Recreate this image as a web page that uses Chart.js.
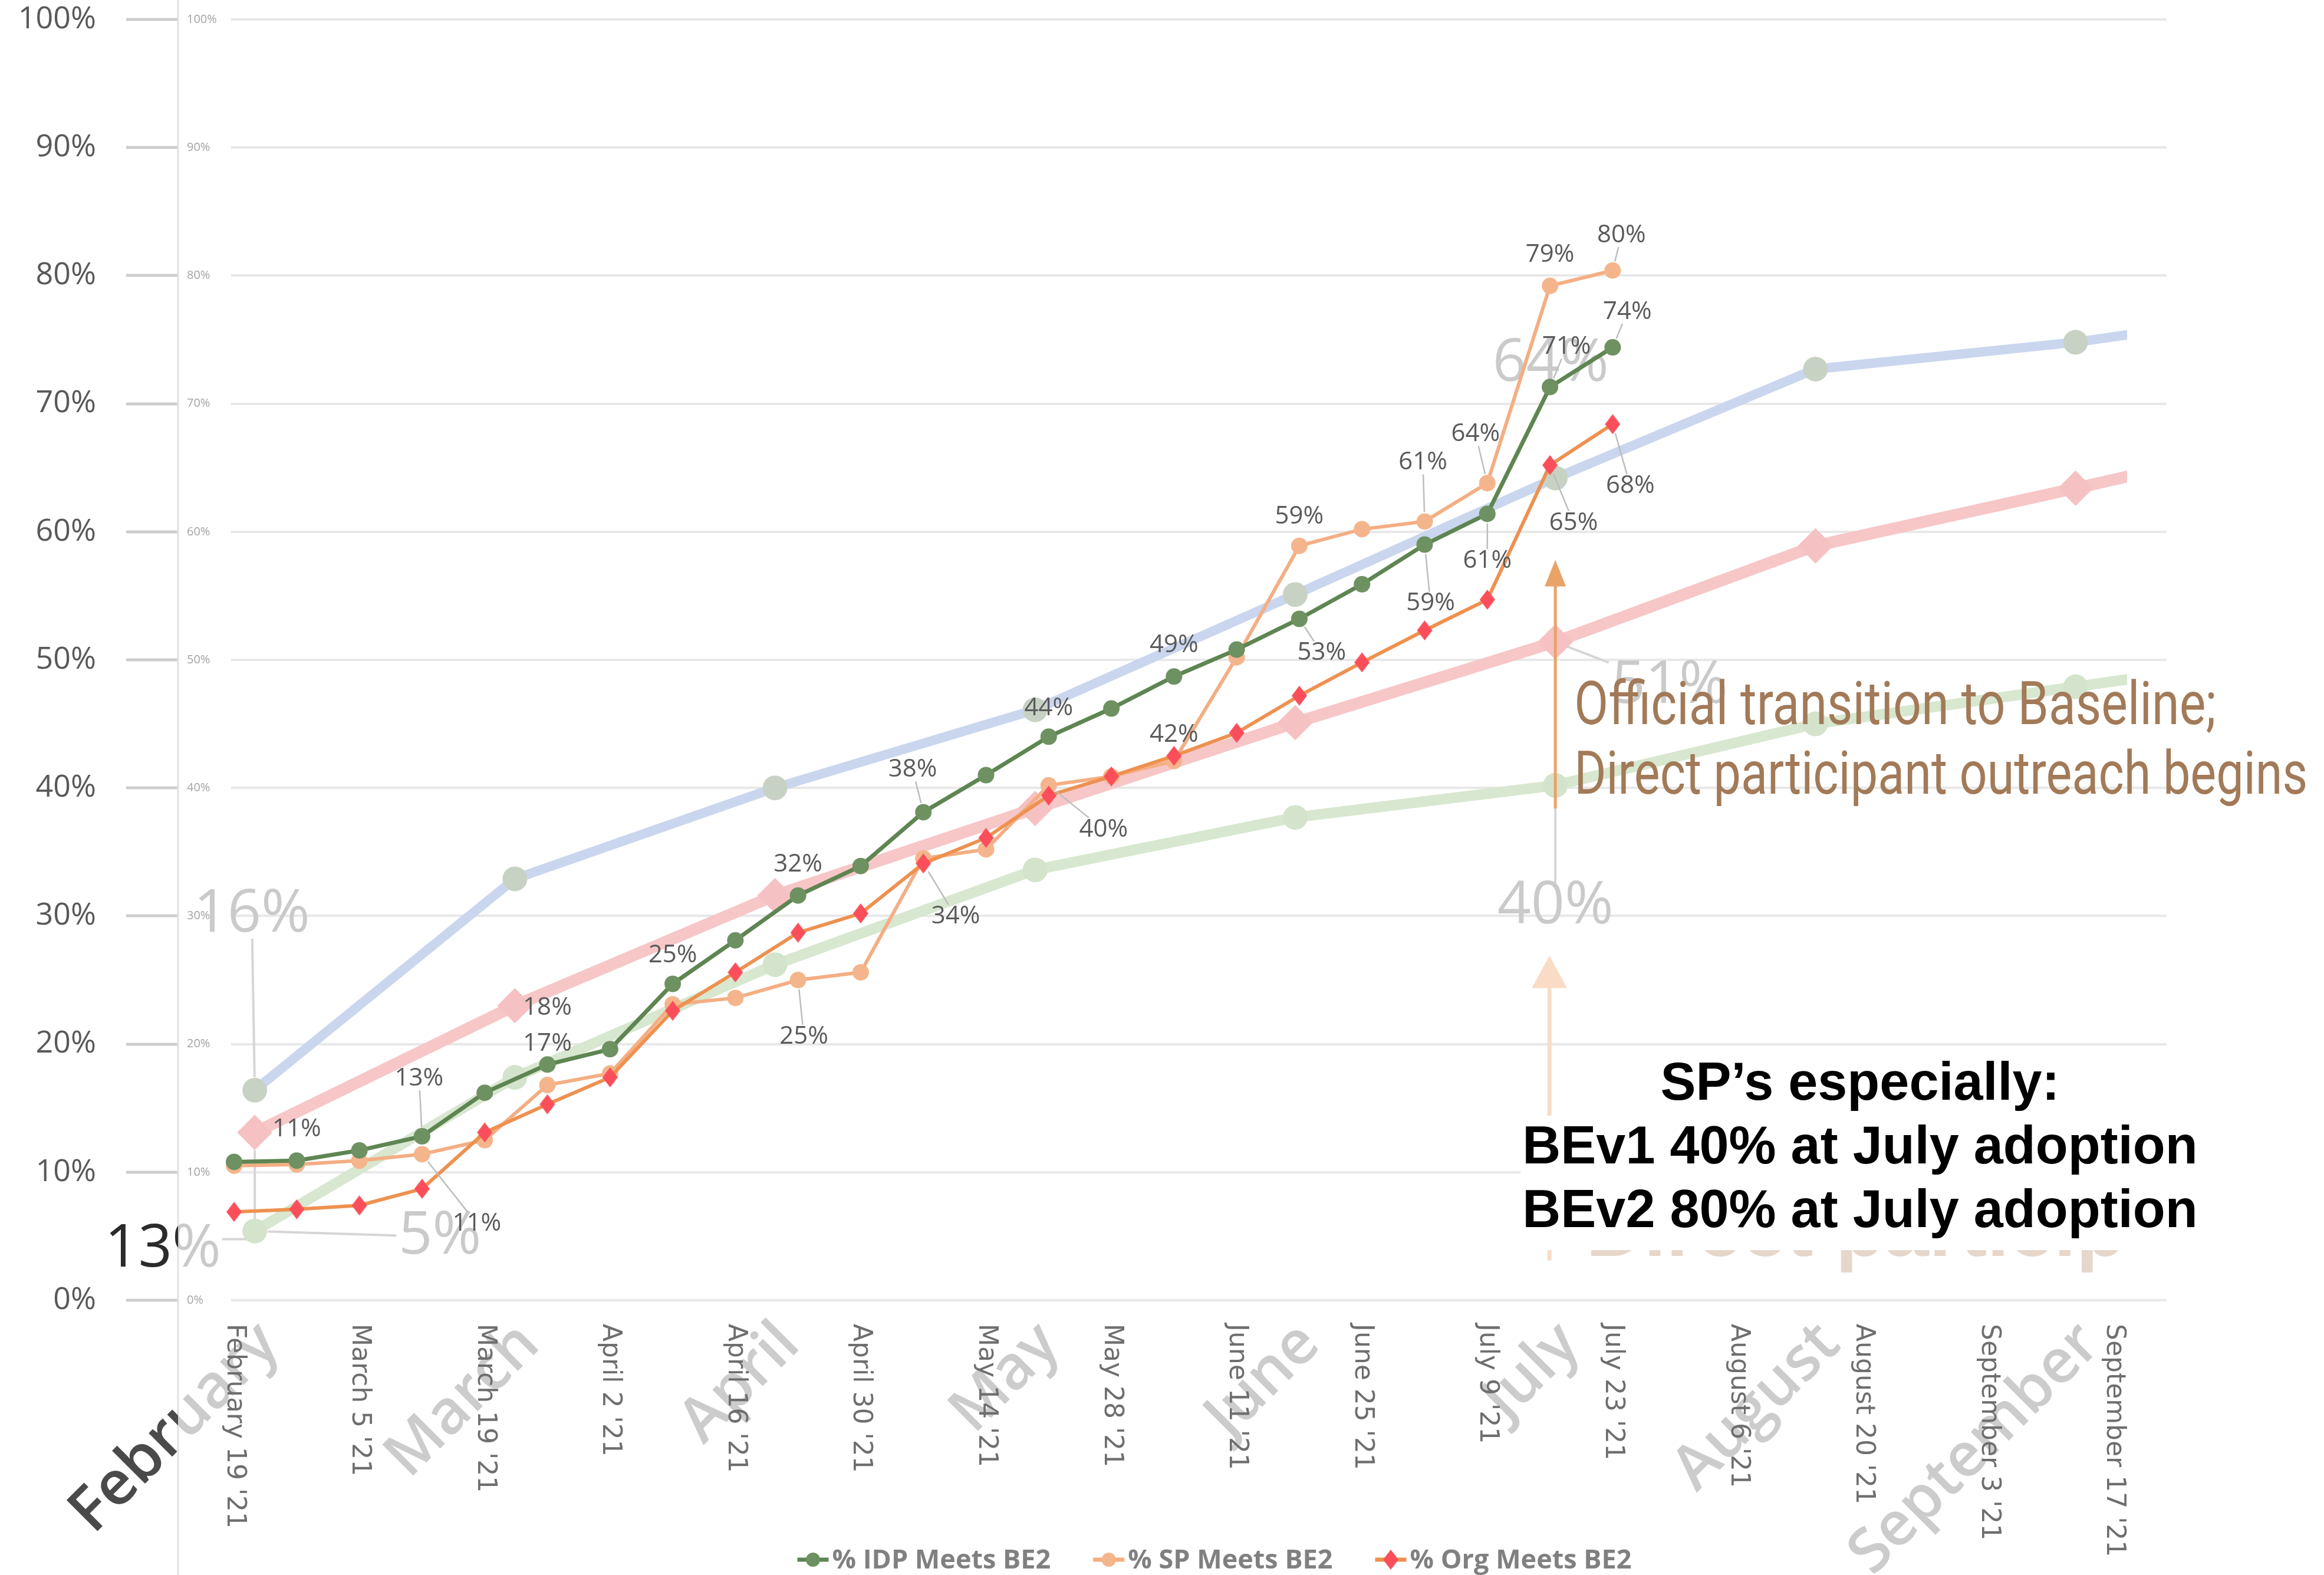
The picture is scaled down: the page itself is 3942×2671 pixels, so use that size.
<!DOCTYPE html>
<html><head><meta charset="utf-8">
<script src="https://cdn.jsdelivr.net/npm/chart.js@4/dist/chart.umd.min.js"></script>
<style>html,body{margin:0;padding:0;background:#fff}canvas{display:block}</style>
</head><body>
<canvas id="c" width="3942" height="2671"></canvas>
<script>
// ---------- DATA ----------
const weeks = ["February 19 '21","February 26 '21","March 5 '21","March 12 '21","March 19 '21","March 26 '21",
  "April 2 '21","April 9 '21","April 16 '21","April 23 '21","April 30 '21","May 7 '21","May 14 '21","May 21 '21",
  "May 28 '21","June 4 '21","June 11 '21","June 18 '21","June 25 '21","July 2 '21","July 9 '21","July 16 '21",
  "July 23 '21","July 30 '21","August 6 '21","August 13 '21","August 20 '21","August 27 '21","September 3 '21",
  "September 10 '21","September 17 '21"];
const tickEvery = 2;
const months = ["February","March","April","May","June","July","August","September","October"];

const idpBE2 = [10.8,10.9,11.7,12.8,16.2,18.4,19.6,24.7,28.1,31.6,33.9,38.1,41.0,44.0,46.2,48.7,50.8,53.2,55.9,59.0,61.4,71.3,74.4];
const spBE2  = [10.5,10.6,10.9,11.4,12.5,16.8,17.7,23.1,23.6,25.0,25.6,34.5,35.2,40.2,40.9,42.1,50.2,58.9,60.2,60.8,63.8,79.2,80.4];
const orgBE2 = [6.9,7.1,7.4,8.7,13.1,15.3,17.4,22.6,25.6,28.7,30.2,34.1,36.1,39.4,40.9,42.5,44.3,47.2,49.8,52.3,54.7,65.2,68.4];

const idpBE1 = [16.4,32.9,40.0,46.1,55.1,64.2,72.7,74.8,77.7];
const orgBE1 = [13.1,23.0,31.6,38.4,45.1,51.4,58.9,63.4,68.0];
const spBE1  = [5.4,17.4,26.2,33.6,37.7,40.2,45.0,47.9,50.8];

const seriesNames = ["% IDP Meets BE2","% SP Meets BE2","% Org Meets BE2"];
const yTicks = [0,10,20,30,40,50,60,70,80,90,100];

// ---------- helpers ----------
const W = 3942, H = 2671;
function diamondCanvas(w, h, color){
  const c = document.createElement('canvas'); c.width = w; c.height = h;
  const g = c.getContext('2d'); g.fillStyle = color; g.beginPath();
  g.moveTo(w/2,0); g.lineTo(w,h/2); g.lineTo(w/2,h); g.lineTo(0,h/2); g.closePath(); g.fill();
  return c;
}
const orgDiamond = diamondCanvas(26, 34, '#FA4F5B');
const pts = arr => arr.map((v,i)=>({x:i,y:v}));

// label specs: [datasetIndex, pointIndex, dx, dy, leader]
const fgLabels = [
  [3,1,0,-53,0],[3,3,-5,-98,1],[3,5,0,-96,0],[3,7,0,-48,0],[3,9,0,-53,0],[3,11,-18,-72,1],[3,13,0,-48,0],
  [3,15,0,-53,0],[3,17,38,58,1],[3,19,10,100,1],[3,20,0,80,1],[3,21,28,-68,1],[3,22,25,-60,1],
  [4,3,93,118,1],[4,5,0,-70,0],[4,9,10,96,1],[4,13,93,75,1],[4,15,0,-45,0],[4,17,0,-50,0],
  [4,19,-3,-100,1],[4,20,-20,-83,1],[4,21,0,-53,0],[4,22,15,-60,1],
  [5,11,55,90,1],[5,21,40,98,1],[5,22,30,105,1]
];
const bgLabels = [
  [0,0,-5,-297,'line'],[1,0,-156,199,'vh'],[2,0,314,10,'line'],
  [0,5,-8,-193,'none'],[1,5,194,75,'line'],[2,5,0,206,'line']
];

function leaderTo(ctx, px, py, lx, ly, w, h, r){
  const dx = px-lx, dy = py-ly;
  let ex, ey;
  if (Math.abs(dy)*w > Math.abs(dx)*h){ const k=(h/2+4)/Math.abs(dy); ey=ly+Math.sign(dy)*(h/2+4); ex=lx+dx*k; }
  else { const k=(w/2+4)/Math.abs(dx); ex=lx+Math.sign(dx)*(w/2+4); ey=ly+dy*k; }
  const d = Math.hypot(px-ex, py-ey);
  if (d <= r+2) return;
  ctx.beginPath(); ctx.moveTo(px+(ex-px)*r/d, py+(ey-py)*r/d); ctx.lineTo(ex,ey); ctx.stroke();
}
function arrow(ctx, x, y0, y1, color, lw, hl, hw){
  ctx.save(); ctx.strokeStyle=color; ctx.fillStyle=color; ctx.lineWidth=lw;
  ctx.beginPath(); ctx.moveTo(x,y0); ctx.lineTo(x,y1+hl-2); ctx.stroke();
  ctx.beginPath(); ctx.moveTo(x,y1); ctx.lineTo(x+hw,y1+hl); ctx.lineTo(x-hw,y1+hl); ctx.closePath(); ctx.fill();
  ctx.restore();
}
function condensedText(ctx, txt, x, y, targetW){
  const w = ctx.measureText(txt).width;
  ctx.save(); ctx.translate(x, y); ctx.scale(targetW / w, 1); ctx.fillText(txt, 0, 0); ctx.restore();
}

const composite = {
  id: 'composite',
  beforeDatasetsDraw(chart){
    const {ctx, chartArea: ca, scales} = chart;
    const x = scales.x, xm = scales.xm, y = scales.y;
    ctx.save();
    // inner (foreground) tiny axis labels with gaps in the grid
    ctx.font = '20px "Open Sans"'; ctx.textBaseline='middle'; ctx.textAlign='left';
    yTicks.forEach(v=>{
      const py = y.getPixelForValue(v);
      ctx.fillStyle='#fff'; ctx.fillRect(ca.left+2, py-5, 88, 10);
      ctx.fillStyle='#a3a3a3'; ctx.fillText(v+'%', ca.left+15, py);
    });
    // full-height vertical axis line of the inner chart
    ctx.strokeStyle='#e2e2e2'; ctx.lineWidth=3;
    ctx.beginPath(); ctx.moveTo(ca.left, 0); ctx.lineTo(ca.left, H); ctx.stroke();

    // month labels (background chart x-axis), rotated 45°
    ctx.font = '600 104px "Open Sans"'; ctx.textAlign='right'; ctx.textBaseline='middle';
    months.forEach((m,i)=>{
      const px = xm.getPixelForValue(i);
      if (px > ca.right) return;
      const draw = (col)=>{ ctx.save(); ctx.fillStyle=col; ctx.translate(px+25, 2263); ctx.rotate(-Math.PI/4); ctx.fillText(m,0,0); ctx.restore(); };
      draw('#cccccc');
      ctx.save(); ctx.beginPath(); ctx.rect(0,0,ca.left,H); ctx.clip(); draw('#4a4a4a'); ctx.restore();
    });

    // week labels (foreground x-axis), rotated 90° clockwise
    ctx.font = '44px "DejaVu Sans"'; ctx.textAlign='left'; ctx.textBaseline='middle'; ctx.fillStyle='#6e6e6e';
    for (let i=0;i<weeks.length;i+=tickEvery){
      const px = x.getPixelForValue(i);
      ctx.save(); ctx.translate(px, 2245); ctx.rotate(Math.PI/2); ctx.fillText(weeks[i],0,0); ctx.restore();
    }

    // background (BE1) data labels
    ctx.font = '100px "Open Sans"'; ctx.textAlign='center'; ctx.textBaseline='middle';
    bgLabels.forEach(([di, pi, dx, dy, mode])=>{
      const el = chart.getDatasetMeta(di).data[pi];
      const val = chart.data.datasets[di].data[pi].y;
      const txt = Math.round(val)+'%';
      const lx = el.x+dx, ly = el.y+dy;
      const w = ctx.measureText(txt).width, h = 72;
      ctx.strokeStyle='#d6d6d6'; ctx.lineWidth=4;
      if (mode==='line') leaderTo(ctx, el.x, el.y, lx, ly, w, h, 22);
      else if (mode==='vh'){
        ctx.beginPath(); ctx.moveTo(el.x, el.y+30); ctx.lineTo(el.x, ly-18); ctx.lineTo(lx+w/2+2, ly-18); ctx.stroke();
      }
      ctx.fillStyle='#cacaca'; ctx.fillText(txt, lx, ly);
      if (lx - w/2 < ca.left){
        ctx.save(); ctx.beginPath(); ctx.rect(0,0,ca.left,H); ctx.clip();
        ctx.fillStyle='#2b2b2b'; ctx.fillText(txt, lx, ly); ctx.restore();
      }
    });
    ctx.restore();
  },
  afterDatasetsDraw(chart){
    const {ctx, chartArea: ca, scales} = chart;
    const xm = scales.xm, y = scales.y;
    ctx.save();
    // foreground data labels
    ctx.font = '42px "Open Sans"'; ctx.textAlign='center'; ctx.textBaseline='middle';
    fgLabels.forEach(([di, pi, dx, dy, lead])=>{
      const el = chart.getDatasetMeta(di).data[pi];
      const val = chart.data.datasets[di].data[pi].y;
      const txt = Math.round(val)+'%';
      const lx = el.x+dx, ly = el.y+dy;
      const w = ctx.measureText(txt).width, h = 32;
      if (lead){ ctx.strokeStyle='#bdbdbd'; ctx.lineWidth=2.5; leaderTo(ctx, el.x, el.y, lx, ly, w, h, 16); }
      ctx.fillStyle='#5a5a5a'; ctx.fillText(txt, lx, ly);
    });

    // annotations
    const jx = xm.getPixelForValue(5);
    // faded arrow and faded background text
    arrow(ctx, jx-10, y.getPixelForValue(3.1), y.getPixelForValue(26.9), '#FADCC6', 7, 55, 30);
    ctx.save(); ctx.beginPath(); ctx.rect(0,0,3608,H); ctx.clip();
    ctx.font = 'bold 136px "Liberation Sans"'; ctx.textAlign='left'; ctx.textBaseline='alphabetic';
    ctx.fillStyle='#E6D7CA'; ctx.fillText('Direct participant outreach begins', 2690, 2130);
    ctx.restore();
    // white box and black note
    ctx.fillStyle='#ffffff'; ctx.fillRect(2579, 1892, 1165, 228);
    ctx.font = 'bold 90px "Liberation Sans"'; ctx.textAlign='center'; ctx.textBaseline='middle'; ctx.fillStyle='#000';
    ctx.fillText('SP\u2019s especially:', 3155, 1840);
    ctx.fillText('BEv1 40% at July adoption', 3155, 1948);
    ctx.fillText('BEv2 80% at July adoption', 3155, 2056);
    // main arrow
    arrow(ctx, jx, y.getPixelForValue(38.4), y.getPixelForValue(57.8), '#E9A368', 5, 45, 18);
    // brown note (condensed)
    ctx.font = '102px Roboto'; ctx.textAlign='left'; ctx.textBaseline='middle'; ctx.fillStyle='#A27A58';
    condensedText(ctx, 'Official transition to Baseline;', jx+32, 1202, 1089);
    condensedText(ctx, 'Direct participant outreach begins', jx+32, 1320, 1244);

    // legend
    const items = [3,4,5].map(i=>chart.data.datasets[i]);
    ctx.font = 'bold 45px "Open Sans"'; ctx.textBaseline='middle'; ctx.textAlign='left';
    const mw = 53, gap = 6, sep = 72, cy = 2645;
    const widths = items.map(d=>ctx.measureText(d.label).width);
    const total = widths.reduce((a,b)=>a+b,0) + items.length*(mw+gap) + sep*(items.length-1);
    let lx = 2060 - total/2;
    items.forEach((d,k)=>{
      ctx.strokeStyle = d.borderColor; ctx.lineWidth = 7;
      ctx.beginPath(); ctx.moveTo(lx, cy); ctx.lineTo(lx+mw, cy); ctx.stroke();
      if (d.pointStyle === 'circle'){
        ctx.fillStyle = d.pointBackgroundColor; ctx.beginPath(); ctx.arc(lx+mw/2, cy, 12, 0, Math.PI*2); ctx.fill();
      } else {
        ctx.drawImage(d.pointStyle, lx+mw/2-13, cy-17);
      }
      ctx.fillStyle = '#808080'; ctx.fillText(d.label, lx+mw+gap, cy+2);
      lx += mw + gap + widths[k] + sep;
    });
    ctx.restore();
  }
};

const bgClip = {left: 60, top: 60, right: -67, bottom: 60};
const chart = new Chart(document.getElementById('c'), {
  type: 'line',
  data: {
    datasets: [
      {label:'% IDP Meets BE1', data: pts(idpBE1), xAxisID:'xm', borderColor:'#C9D6EE', borderWidth:16,
       pointStyle:'circle', pointRadius:21, pointBackgroundColor:'#C8D2C4', pointBorderWidth:0, clip: bgClip, order: 10},
      {label:'% Org Meets BE1', data: pts(orgBE1), xAxisID:'xm', borderColor:'#F7C6C7', borderWidth:20,
       pointStyle:'rectRot', pointRadius:30, pointBackgroundColor:'#F6C1C2', pointBorderWidth:0, clip: bgClip, order: 10},
      {label:'% SP Meets BE1', data: pts(spBE1), xAxisID:'xm', borderColor:'#D8E7CF', borderWidth:18,
       pointStyle:'circle', pointRadius:21, pointBackgroundColor:'#D4E3CB', pointBorderWidth:0, clip: bgClip, order: 10},
      {label: seriesNames[0], data: pts(idpBE2), xAxisID:'x', borderColor:'#5E8552', borderWidth:7,
       pointStyle:'circle', pointRadius:14, pointBackgroundColor:'#6D9160', pointBorderWidth:0, order: 1},
      {label: seriesNames[1], data: pts(spBE2), xAxisID:'x', borderColor:'#F4AE83', borderWidth:6,
       pointStyle:'circle', pointRadius:14, pointBackgroundColor:'#F5B58C', pointBorderWidth:0, order: 2},
      {label: seriesNames[2], data: pts(orgBE2), xAxisID:'x', borderColor:'#EE9150', borderWidth:6,
       pointStyle: orgDiamond, pointRadius:14, pointBackgroundColor:'#FA4F5B', pointBorderWidth:0, order: 0}
    ]
  },
  options: {
    responsive: false, animation: false, devicePixelRatio: 1,
    layout: {padding: {top: 33, right: 267, left: 0, bottom: 0}},
    elements: {line: {tension: 0}},
    plugins: {legend: {display: false}, tooltip: {enabled: false}},
    scales: {
      x: {type:'linear', min:-0.894, max:30.84, ticks:{display:false}, grid:{display:false}, border:{display:false},
          afterFit(s){ s.height = 466; s.paddingLeft = 0; s.paddingRight = 0; }},
      xm: {type:'linear', display:false, min:-0.295, max:7.35},
      y: {type:'linear', position:'left', min:0, max:100,
          ticks:{stepSize:10, callback:v=>v+'%', font:{family:'Open Sans', size:52}, color:'#595959', padding:51},
          grid:{color:'#e8e8e8', lineWidth:4, tickLength:88, tickColor:'#cdcdcd', tickWidth:5},
          border:{display:false},
          afterFit(s){ s.width = 302; s.paddingTop = 0; s.paddingBottom = 0; }}
    }
  },
  plugins: [composite]
});
</script>
</body></html>
